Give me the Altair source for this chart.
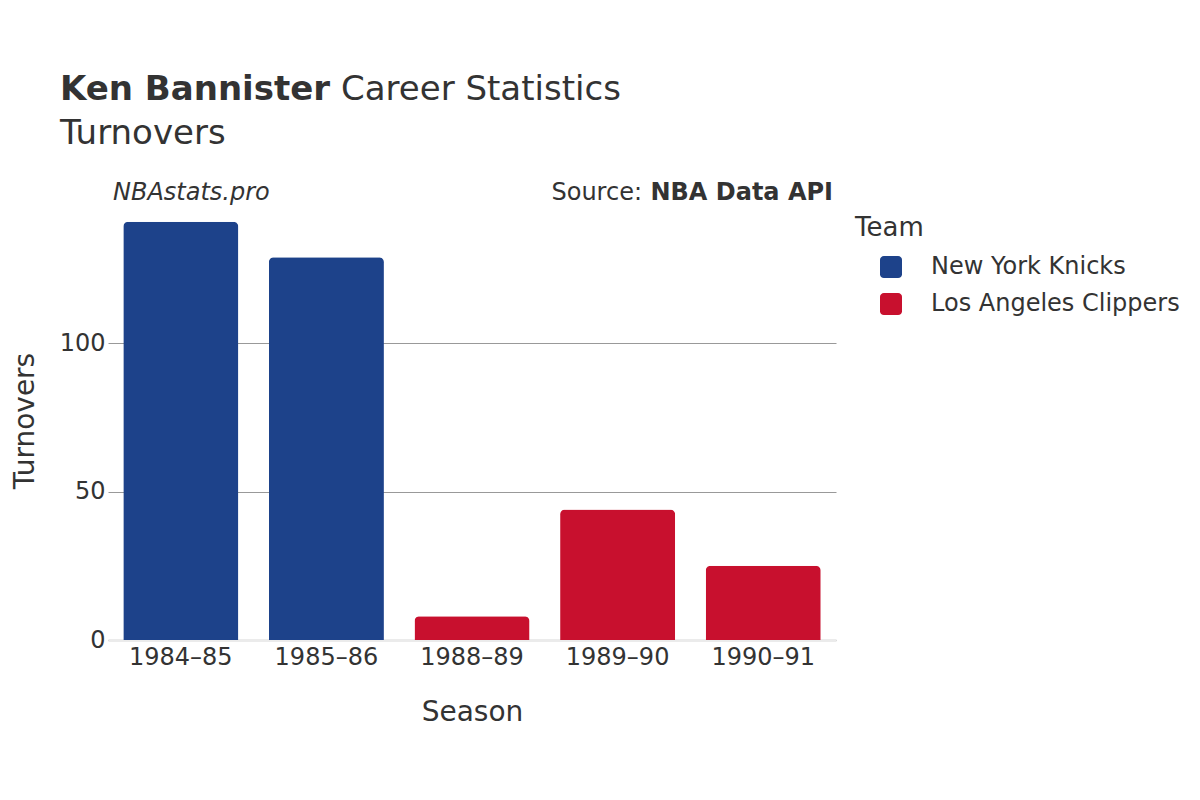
import altair as alt
import pandas as pd

seasons = ["1984–85", "1985–86", "1988–89", "1989–90", "1990–91"]
teams = ["New York Knicks", "New York Knicks", "Los Angeles Clippers", "Los Angeles Clippers", "Los Angeles Clippers"]
turnovers = [141, 129, 8, 44, 25]

team_names = ["New York Knicks", "Los Angeles Clippers"]
team_colors = ["#1D428A", "#C8102E"]

df = pd.DataFrame({"Season": seasons, "Team": teams, "Turnovers": turnovers})
one = pd.DataFrame({"k": [0]})

FONT = "DejaVu Sans"
TXT = "#333333"
W, H = 728, 439

rounded = ("M-0.65,-1H0.65A0.35,0.35,0,0,1,1,-0.65V0.65A0.35,0.35,0,0,1,0.65,1"
           "H-0.65A0.35,0.35,0,0,1,-1,0.65V-0.65A0.35,0.35,0,0,1,-0.65,-1Z")

bars = alt.Chart(df).mark_bar(cornerRadiusTopLeft=5, cornerRadiusTopRight=5).encode(
    x=alt.X("Season:N", sort=seasons,
            scale=alt.Scale(paddingInner=0.21, paddingOuter=0.105),
            axis=alt.Axis(title="Season", labelAngle=0, labelFontSize=24, labelColor=TXT,
                          labelFont=FONT, titleFont=FONT, titleFontSize=28, titleColor=TXT,
                          titleFontWeight="normal", ticks=False, domain=True,
                          domainColor="#EBEBEB", domainWidth=3, labelPadding=5, titlePadding=29)),
    y=alt.Y("Turnovers:Q", scale=alt.Scale(domain=[0, 148], nice=False),
            axis=alt.Axis(title="Turnovers", values=[0, 50, 100], grid=True, gridColor="#999999",
                          gridWidth=1, domain=False, ticks=False, labelFontSize=24,
                          labelColor=TXT, labelFont=FONT, labelPadding=3, titleFont=FONT,
                          titleFontSize=28, titleColor=TXT, titleFontWeight="normal",
                          titlePadding=20)),
    color=alt.Color("Team:N", sort=team_names,
                    scale=alt.Scale(domain=team_names, range=team_colors),
                    legend=alt.Legend(title="Team", orient="none", legendX=747, legendY=14,
                                      titleFont=FONT, titleFontSize=26, titleColor=TXT,
                                      titleFontWeight="normal", titlePadding=14,
                                      labelFont=FONT, labelFontSize=24, labelColor=TXT,
                                      labelLimit=0,
                                      symbolType=rounded, symbolSize=484, symbolOpacity=1,
                                      symbolStrokeWidth=0, symbolOffset=24, labelOffset=28,
                                      rowPadding=13)),
)


def note(text, x, y, size, align="left", weight="normal", style="normal"):
    return alt.Chart(one).mark_text(text=text, font=FONT, fontSize=size, fontWeight=weight,
                                    fontStyle=style, color=TXT, align=align,
                                    baseline="middle").encode(x=alt.value(x), y=alt.value(y))


header = [
    note("Ken Bannister", -48, -111, 34, weight="bold"),
    note("Career Statistics", 233, -111, 34),
    note("Turnovers", -48, -67, 34),
    note("NBAstats.pro", 5, -8, 24, style="italic"),
    note("Source:", 534, -8, 24, align="right"),
    note("NBA Data API", 725, -8, 24, align="right", weight="bold"),
]

chart = alt.layer(bars, *header).properties(
    width=W, height=H,
    background="white",
    autosize=alt.AutoSizeParams(type="none"),
    padding={"left": 100, "top": 193, "right": 356, "bottom": 152},
).configure_view(stroke=None, strokeWidth=0)

chart.save("out.html", embed_options={"renderer": "svg", "actions": False})
